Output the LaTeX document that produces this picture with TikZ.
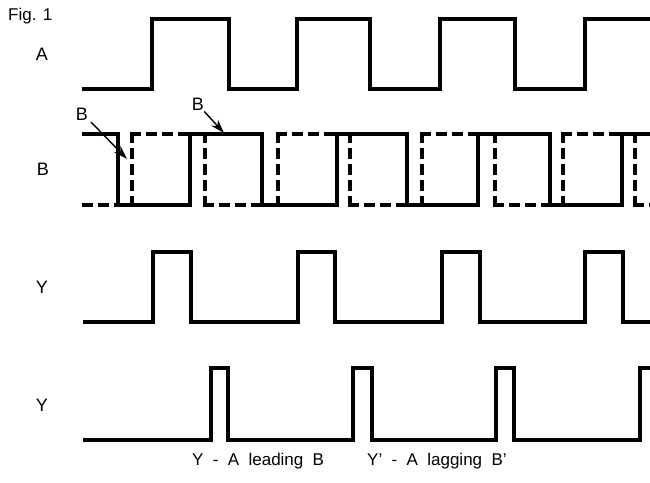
\documentclass[tikz,border=0pt]{standalone}
\usepackage{fontspec}
\setmainfont{Liberation Sans}
\usetikzlibrary{arrows.meta}
\newcommand{\gapsp}{\hspace{0.55em}}
\begin{document}
\begin{tikzpicture}[x=1pt,y=-1pt,
  sig/.style={line width=4.6pt, line join=miter, line cap=butt},
  dsig/.style={line width=4.3pt, line cap=rect, dash pattern=on 7pt off 9pt},
  lbl/.style={font=\fontsize{18}{20}\selectfont, inner sep=0pt},
  capt/.style={font=\fontsize{17}{19}\selectfont, inner sep=0pt, anchor=base west},
  pointer/.style={line width=1.4pt, -{Stealth[length=14pt,width=9pt]}}]
\useasboundingbox (0,0) rectangle (650,482);
% labels
\node[lbl, anchor=base west, font=\fontsize{17}{19}\selectfont] (fig) at (8,20) {Fig. 1};
\node[lbl] (la) at (42,54) {A};
\node[lbl] (lb) at (43,169) {B};
\node[lbl] (ly) at (42,287) {Y};
\node[lbl] (ly2) at (42,405) {Y};
% signal A
\draw[sig] (82,89) -- (152,89) -- (152,19) -- (229,19) -- (229,89) -- (297,89) -- (297,19)
  -- (370,19) -- (370,89) -- (440,89) -- (440,19) -- (515,19) -- (515,89) -- (585,89)
  -- (585,19) -- (652,19);
% signal B' (dashed)
\draw[dsig] (84,205) -- (132,205);
\foreach \r/\f/\n in {132/205/278, 278/350/422, 422/495/563, 563/635/652}{
  \draw[dsig] (\r,134) -- (\r,205);
  \draw[dsig] (\r,134) -- (\f,134);
  \draw[dsig] (\f,205) -- (\f,134);
  \draw[dsig] (\f,205) -- (\n,205);
}
% signal B (solid)
\draw[sig] (82,134) -- (118,134) -- (118,205) -- (190,205) -- (190,134) -- (262,134)
  -- (262,205) -- (337,205) -- (337,134) -- (407,134) -- (407,205) -- (478,205)
  -- (478,134) -- (550,134) -- (550,205) -- (622,205) -- (622,134) -- (652,134);
% signal Y
\draw[sig] (83,322) -- (153,322) -- (153,252) -- (191,252) -- (191,322) -- (298,322)
  -- (298,252) -- (335,252) -- (335,322) -- (442,322) -- (442,252) -- (480,252)
  -- (480,322) -- (585,322) -- (585,252) -- (623,252) -- (623,322) -- (652,322);
% signal Y'
\draw[sig] (83,440) -- (211,440) -- (211,368) -- (228,368) -- (228,440) -- (353,440)
  -- (353,368) -- (372,368) -- (372,440) -- (496,440) -- (496,368) -- (514,368)
  -- (514,440) -- (640,440) -- (640,368) -- (652,368);
% B pointers
\node[lbl] (pb1) at (82,114) {B};
\node[lbl] (pb2) at (198,104) {B};
\coordinate (t1) at (127,159);
\coordinate (t2) at (224,133);
\draw[pointer] (91,122) -- (t1);
\draw[pointer] (pb2.south east) ++(0,1) -- (t2);
% captions
\node[capt] (c1) at (192,465) {Y\gapsp-\gapsp A\gapsp leading\gapsp B};
\node[capt] (c2) at (367,465) {Y'\gapsp-\gapsp A\gapsp lagging\gapsp B'};
\end{tikzpicture}
\end{document}
